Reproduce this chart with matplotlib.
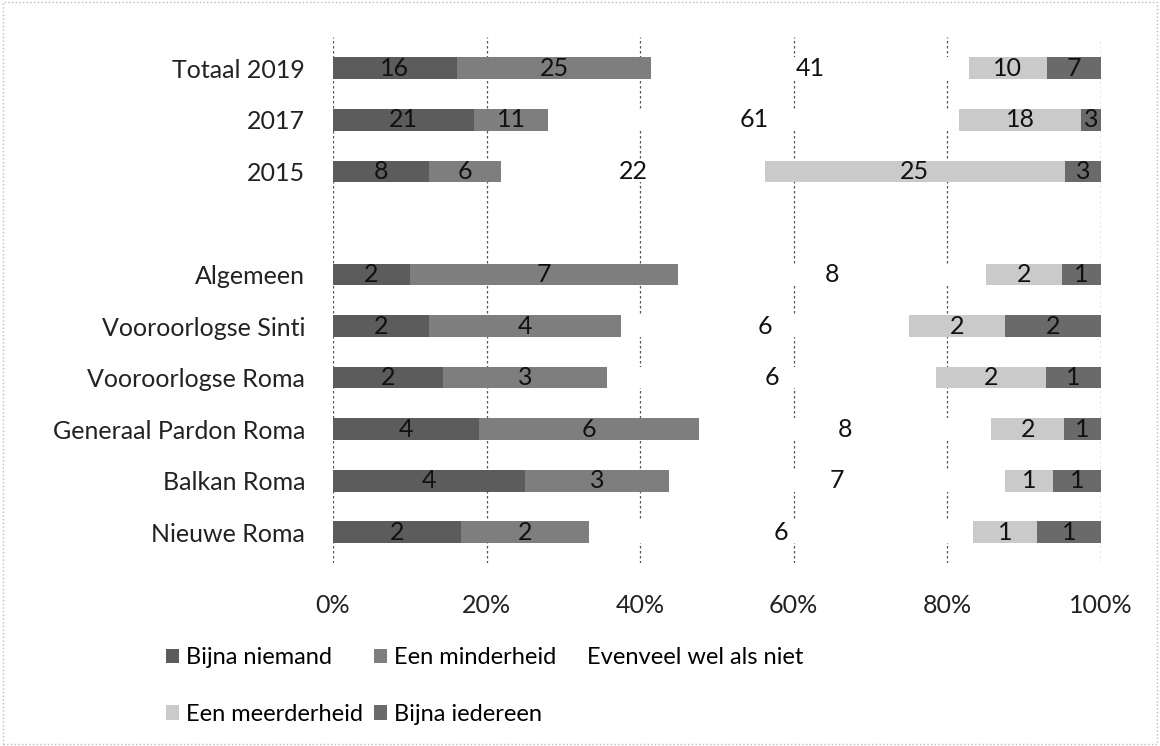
import numpy as np
import matplotlib.pyplot as plt
from matplotlib.patches import Patch

plt.rcParams['font.family'] = ['Lato', 'DejaVu Sans']

categories = ['Totaal 2019', '2017', '2015', '', 'Algemeen', 'Vooroorlogse Sinti',
              'Vooroorlogse Roma', 'Generaal Pardon Roma', 'Balkan Roma', 'Nieuwe Roma']
series = ['Bijna niemand', 'Een minderheid', 'Evenveel wel als niet',
          'Een meerderheid', 'Bijna iedereen']
bijna_niemand = [16, 21, 8, 0, 2, 2, 2, 4, 4, 2]
een_minderheid = [25, 11, 6, 0, 7, 4, 3, 6, 3, 2]
evenveel = [41, 61, 22, 0, 8, 6, 6, 8, 7, 6]
een_meerderheid = [10, 18, 25, 0, 2, 2, 2, 2, 1, 1]
bijna_iedereen = [7, 3, 3, 0, 1, 2, 1, 1, 1, 1]
colors = ['#5c5c5c', '#7e7e7e', '#ffffff', '#cacaca', '#6a6a6a']

counts = np.array([bijna_niemand, een_minderheid, evenveel, een_meerderheid, bijna_iedereen], dtype=float)
totals = counts.sum(axis=0)
totals[totals == 0] = 1
shares = counts / totals * 100

fig = plt.figure(figsize=(11.6, 7.46), dpi=100)
ax = fig.add_axes([0.287, 0.245, 0.662, 0.705])
y = np.arange(len(categories))

left = np.zeros(len(categories))
for i, name in enumerate(series):
    ax.barh(y, shares[i], left=left, height=0.42, color=colors[i], label=name, zorder=2)
    for j in range(len(categories)):
        if counts[i, j] > 0:
            ax.text(left[j] + shares[i, j] / 2, y[j], str(int(counts[i, j])),
                    ha='center', va='center', fontsize=18, color='#111111', zorder=3)
    left += shares[i]

ax.set_xlim(0, 100)
ax.set_ylim(len(categories) - 0.4, -0.6)
ax.set_yticks(y)
ax.set_yticklabels(categories, fontsize=18, color='#222222')
ax.set_xticks([0, 20, 40, 60, 80, 100])
ax.set_xticklabels(['0%', '20%', '40%', '60%', '80%', '100%'], fontsize=18, color='#222222')
ax.tick_params(axis='x', length=0, pad=22)
ax.tick_params(axis='y', length=0, pad=20)
ax.grid(axis='x', color='#555555', linestyle=(0, (2, 2)), linewidth=0.9, zorder=0)
for s in ax.spines.values():
    s.set_visible(False)

# row-major legend order (matplotlib fills columns first)
order = [0, 3, 1, 4, 2]
handles = [Patch(facecolor=colors[k], edgecolor='none') for k in order]
labels = [series[k] for k in order]
fig.legend(handles, labels, loc='lower left', bbox_to_anchor=(0.125, 0.0), ncol=3,
           frameon=False, fontsize=17, handlelength=0.55, handleheight=0.55,
           handletextpad=0.3, columnspacing=0.45, labelspacing=1.5)

border = plt.Rectangle((0.003, 0.003), 0.994, 0.994, transform=fig.transFigure,
                       fill=False, edgecolor='#bbbbbb', linestyle=':', linewidth=1)
fig.patches.append(border)

fig.savefig('out.png', dpi=100)
